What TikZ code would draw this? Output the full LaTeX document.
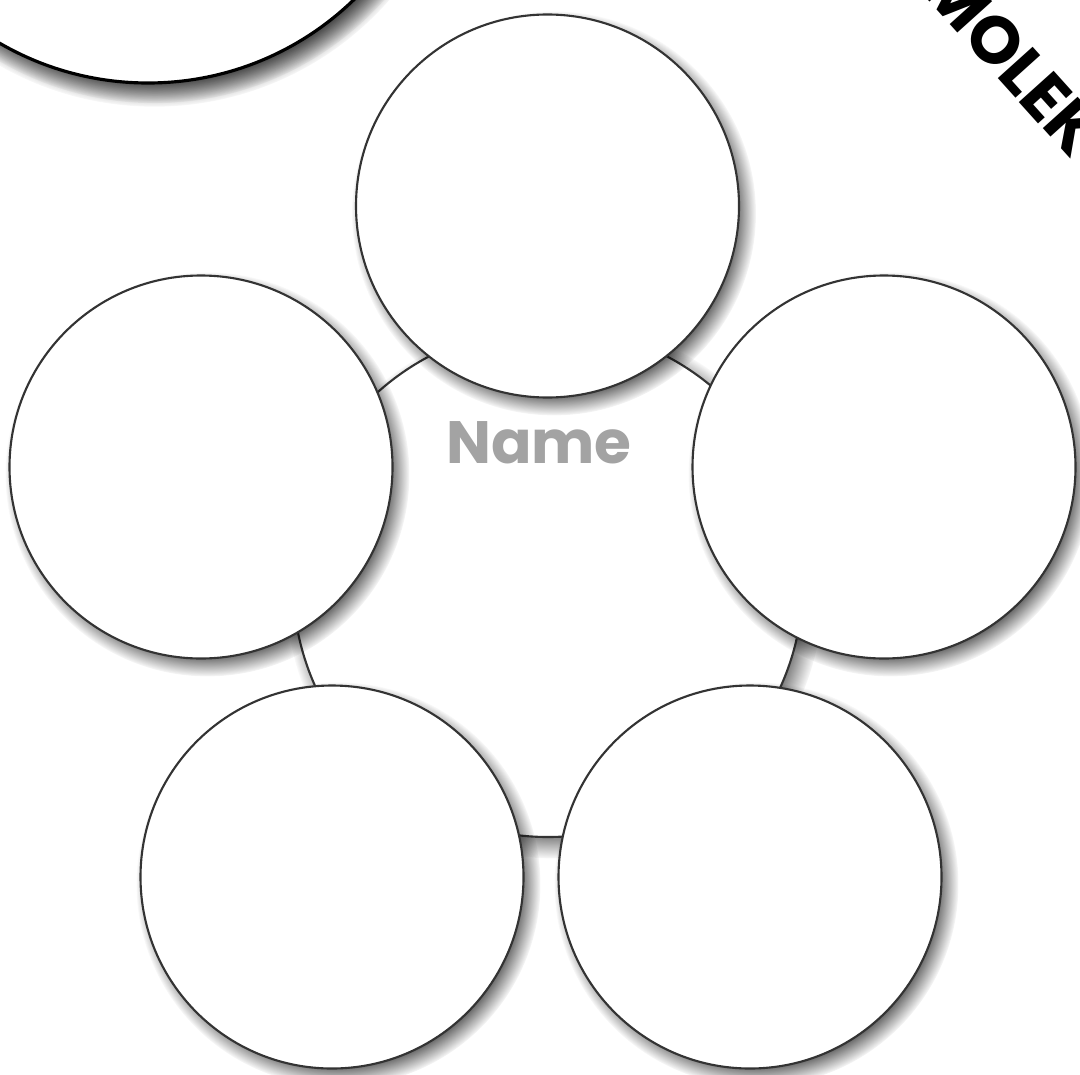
\documentclass[tikz,border=0pt]{standalone}
\usepackage{fontspec}
\setmainfont{Poppins}
\usetikzlibrary{shadows,fadings}
\definecolor{rimgray}{HTML}{333333}
\definecolor{namegray}{HTML}{A3A3A3}
\tikzset{
    bubble/.style={circle, draw=rimgray, line width=0.6pt, fill=white, inner sep=0pt,
        circular drop shadow={shadow xshift=0.06cm, shadow yshift=-0.07cm,
            shadow scale=1.055, opacity=0.85, fill=black}},
    hubtext/.style={font=\bfseries\fontsize{17}{20}\selectfont, text=namegray}
}
\begin{document}
\begin{tikzpicture}[
    petal/.style={bubble, minimum size=3.83cm},
    bigcircle/.style={bubble, draw=black, line width=0.9pt, minimum size=5.92cm,
        circular drop shadow={shadow xshift=0.06cm, shadow yshift=-0.08cm,
            shadow scale=1.04, opacity=0.9, fill=black}}
]
\useasboundingbox (0,0) rectangle (10.8,-10.74);
\clip (0,0) rectangle (10.8,-10.74);
% corner circle and title
\node[bigcircle] (corner) at (1.48,2.13) {};
\node[font=\bfseries\fontsize{19}{22}\selectfont, rotate=-48] (title) at (10.13,-0.60) {MOLEK};
% hub
\node[bubble, minimum size=5.10cm] (hub) at (5.48,-5.82) {};
% petals
\node[petal] (top) at (5.475,-2.06) {};
\node[petal] (left) at (2.01,-4.67) {};
\node[petal] (right) at (8.84,-4.67) {};
\node[petal] (botleft) at (3.32,-8.77) {};
\node[petal] (botright) at (7.50,-8.77) {};
\node[hubtext] (name) at (5.39,-4.43) {Name};
\end{tikzpicture}
\end{document}
